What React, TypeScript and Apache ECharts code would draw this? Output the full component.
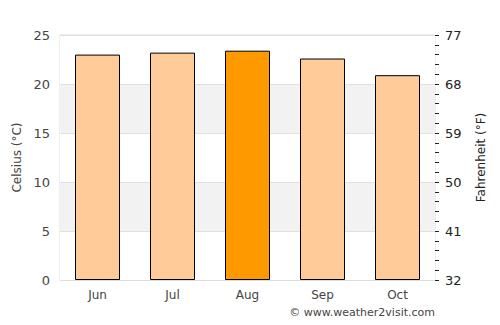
import React, { useEffect, useRef } from "react";
import * as echarts from "echarts";

const months = ["Jun", "Jul", "Aug", "Sep", "Oct"];
const celsius = [23.0, 23.2, 23.4, 22.6, 20.9];
const highlightIndex = 2;
const fahrenheitLabels = ["32", "41", "50", "59", "68", "77"];

export default function App() {
  const ref = useRef<HTMLDivElement>(null);
  useEffect(() => {
    if (!ref.current) return;
    const chart = echarts.init(ref.current, undefined, { renderer: "svg" });
    const font = "DejaVu Sans";
    chart.setOption({
      animation: false,
      textStyle: { fontFamily: font },
      grid: { left: 60, right: 65, top: 35, bottom: 45, show: true, borderColor: "#dddddd", borderWidth: 1 },
      graphic: [
        {
          type: "text",
          right: 65,
          top: 307,
          style: { text: "© www.weather2visit.com", fill: "#444", font: `11px ${font}` },
        },
      ],
      xAxis: {
        type: "category",
        data: months,
        axisLine: { show: true, lineStyle: { color: "#dddddd" } },
        axisTick: { show: false },
        axisLabel: { color: "#444", fontSize: 12, margin: 9, fontFamily: font },
      },
      yAxis: [
        {
          type: "value",
          min: 0,
          max: 25,
          interval: 5,
          name: "Celsius (°C)",
          nameLocation: "middle",
          nameGap: 34,
          nameTextStyle: { color: "#444", fontSize: 12, fontFamily: font },
          axisLine: { show: false },
          axisTick: { show: false },
          axisLabel: { color: "#444", fontSize: 13, margin: 10, fontFamily: font },
          splitLine: { show: true, lineStyle: { color: "#e0e0e0" } },
          splitArea: { show: true, areaStyle: { color: ["#ffffff", "#f2f2f2"] } },
        },
        {
          type: "value",
          position: "right",
          min: 0,
          max: 25,
          interval: 5,
          name: "Fahrenheit (°F)",
          nameLocation: "middle",
          nameGap: 40,
          nameRotate: 90,
          nameTextStyle: { color: "#222", fontSize: 12, fontFamily: font },
          axisLine: { show: false },
          axisTick: { show: true, length: 4, inside: false, lineStyle: { color: "#222" } },
          minorTick: { show: true, splitNumber: 5, length: 4, lineStyle: { color: "#222" } },
          axisLabel: {
            color: "#222",
            fontSize: 13,
            margin: 10,
            fontFamily: font,
            formatter: (v: number) => fahrenheitLabels[Math.round(v / 5)] ?? "",
          },
          splitLine: { show: false },
        },
      ],
      series: [
        {
          type: "bar",
          yAxisIndex: 0,
          barWidth: "60%",
          data: celsius.map((v, i) => ({
            value: v,
            itemStyle: {
              color: i === highlightIndex ? "#ff9900" : "#ffcc99",
              borderColor: "#000",
              borderWidth: 1,
            },
          })),
        },
      ],
    });
    return () => chart.dispose();
  }, []);
  return <div ref={ref} style={{ position: "absolute", left: 0, top: 0, width: 500, height: 325 }} />;
}
